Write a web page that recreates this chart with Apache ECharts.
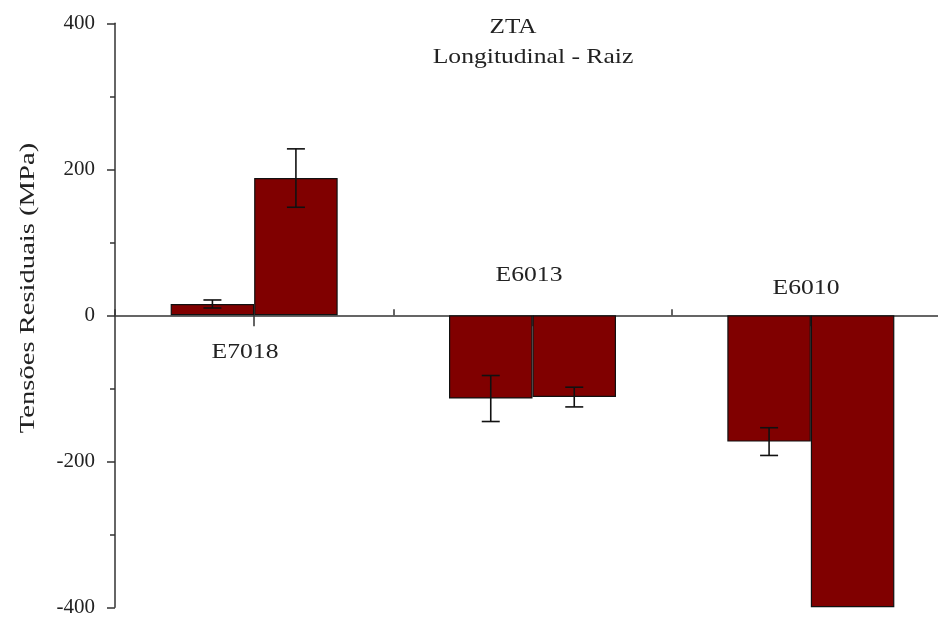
<!DOCTYPE html>
<html>
<head>
<meta charset="utf-8">
<script src="https://cdn.jsdelivr.net/npm/echarts@6/dist/echarts.min.js"></script>
<style>html,body{margin:0;padding:0;background:#fff;}#chart{width:938px;height:617px;}</style>
</head>
<body>
<div id="chart"></div>
<script>
const categories = ['E7018', 'E6013', 'E6010'];
const valuesA = [15.5, -114, -173];
const valuesB = [188, -112, -400];
const errorsA = [5.5, 31.5, 19];
const errorsB = [40, 13.5, 0];
const titleLines = ['ZTA', 'Longitudinal - Raiz'];
const yAxisName = 'Tensões Residuais (MPa)';

const FONT = '"Liberation Serif", "Times New Roman", serif';
const chart = echarts.init(document.getElementById('chart'), null, {renderer: 'canvas'});

function errRenderer(sign) {
  return function (params, api) {
    const i = api.value(0), v = api.value(1), e = api.value(2);
    if (!e) return null;
    const band = api.size([1, 0])[0];
    const x = api.coord([i, v])[0] + sign * band * 0.15;
    const y1 = api.coord([i, v + e])[1];
    const y2 = api.coord([i, v - e])[1];
    const cap = 9;
    const st = {stroke: '#111', lineWidth: 1.6};
    return {
      type: 'group',
      children: [
        {type: 'line', shape: {x1: x, y1: y1, x2: x, y2: y2}, style: st},
        {type: 'line', shape: {x1: x - cap, y1: y1, x2: x + cap, y2: y1}, style: st},
        {type: 'line', shape: {x1: x - cap, y1: y2, x2: x + cap, y2: y2}, style: st}
      ]
    };
  };
}

const annPos = [[245, 352], [529, 275], [806, 288]];

const option = {
  animation: false,
  backgroundColor: '#fff',
  grid: {left: 115, right: -12, top: 23.3, height: 584, outerBoundsMode: 'none', containLabel: false},
  xAxis: [
    {
      type: 'category', data: categories, position: 'bottom',
      axisLine: {onZero: true, lineStyle: {color: '#333', width: 1.5}},
      axisTick: {show: true, alignWithLabel: true, inside: false, length: 11, lineStyle: {color: '#333', width: 1.5}},
      axisLabel: {show: false},
      splitLine: {show: false}
    },
    {
      type: 'category', data: categories, position: 'bottom', offset: -292,
      axisLine: {show: false, onZero: false},
      axisTick: {show: true, alignWithLabel: false, inside: true, length: 6, lineStyle: {color: '#333', width: 1.5}},
      axisLabel: {show: false},
      splitLine: {show: false}
    }
  ],
  yAxis: {
    type: 'value', min: -400, max: 400, interval: 200,
    axisLine: {show: true, lineStyle: {color: '#333', width: 1.5}},
    axisTick: {show: true, length: 8, lineStyle: {color: '#333', width: 1.5}},
    minorTick: {show: true, splitNumber: 2, length: 5, lineStyle: {color: '#333', width: 1.5}},
    splitLine: {show: false},
    axisLabel: {fontFamily: FONT, fontSize: 21, color: '#222', margin: 20}
  },
  graphic: [
    {type: 'text', x: 513, y: 27, scaleX: 1.2, style: {text: titleLines[0], font: '21px ' + FONT, fill: '#222', align: 'center', verticalAlign: 'middle'}},
    {type: 'text', x: 533, y: 57, scaleX: 1.22, style: {text: titleLines[1], font: '21px ' + FONT, fill: '#222', align: 'center', verticalAlign: 'middle'}},
    {type: 'text', x: 28, y: 288, rotation: Math.PI / 2, scaleX: 1.3, style: {text: yAxisName, font: '22px ' + FONT, fill: '#222', align: 'center', verticalAlign: 'middle'}}
  ].concat(categories.map((c, i) => ({
    type: 'text', x: annPos[i][0], y: annPos[i][1], scaleX: 1.22,
    style: {text: c, font: '21px ' + FONT, fill: '#222', align: 'center', verticalAlign: 'middle'}
  }))),
  series: [
    {type: 'bar', name: 'A', data: valuesA, barWidth: '30%', barGap: 0,
     itemStyle: {color: '#800000', borderColor: '#111', borderWidth: 1.2}},
    {type: 'bar', name: 'B', data: valuesB, barWidth: '30%', barGap: 0,
     itemStyle: {color: '#800000', borderColor: '#111', borderWidth: 1.2}},
    {type: 'custom', name: 'errA', renderItem: errRenderer(-1), encode: {x: 0, y: 1}, z: 5,
     data: categories.map((c, i) => [i, valuesA[i], errorsA[i]])},
    {type: 'custom', name: 'errB', renderItem: errRenderer(1), encode: {x: 0, y: 1}, z: 5,
     data: categories.map((c, i) => [i, valuesB[i], errorsB[i]])}
  ]
};
chart.setOption(option);
</script>
</body>
</html>
